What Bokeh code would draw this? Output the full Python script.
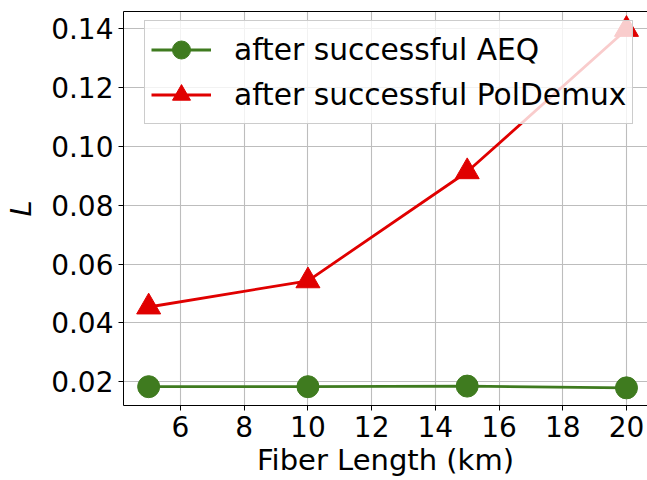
from bokeh.plotting import figure
from bokeh.models import (LinearAxis, FixedTicker, Range1d, Legend, LegendItem,
                          PrintfTickFormatter)
from bokeh.embed import file_html
from bokeh.resources import INLINE

fiber_km = [5, 10, 15, 20]
aeq = [0.0183, 0.0183, 0.0185, 0.0179]
poldemux = [0.0454, 0.0543, 0.0914, 0.1398]
x_ticks = [6, 8, 10, 12, 14, 16, 18, 20]
y_ticks = [0.02, 0.04, 0.06, 0.08, 0.10, 0.12, 0.14]
series_labels = ["after successful AEQ", "after successful PolDemux"]

GREEN = "#3f7b1f"
RED = "#e00000"
FONT = "DejaVu Sans"

p = figure(width=647, height=480, output_backend="svg", toolbar_location=None,
           x_range=Range1d(4.21, 20.66), y_range=Range1d(0.0119, 0.1459),
           min_border_left=123, min_border_right=0, min_border_top=11,
           min_border_bottom=75)
p.outline_line_color = None
p.background_fill_color = "white"
p.border_fill_color = "white"

# axes
p.xaxis.ticker = FixedTicker(ticks=x_ticks)
p.yaxis.ticker = FixedTicker(ticks=y_ticks)
p.xaxis.formatter = PrintfTickFormatter(format="%d")
p.yaxis.formatter = PrintfTickFormatter(format="%.2f")
for ax in (p.xaxis[0], p.yaxis[0]):
    ax.major_label_text_font = FONT
    ax.major_label_text_font_size = "28px"
    ax.major_label_text_color = "black"
    ax.axis_label_text_font = FONT
    ax.axis_label_text_font_size = "29px"
    ax.axis_label_text_color = "black"
    ax.axis_label_text_font_style = "normal"
    ax.axis_line_color = "black"
    ax.axis_line_width = 1
    ax.major_tick_line_color = "black"
    ax.major_tick_out = 5
    ax.major_tick_in = 0
    ax.minor_tick_line_color = None
p.xaxis.axis_label = "Fiber Length (km)"
p.yaxis.axis_label = "L"
p.yaxis.axis_label_text_font_style = "italic"
p.xaxis.major_label_standoff = 5
p.xaxis.axis_label_standoff = 3
p.yaxis.major_label_standoff = 5
p.yaxis.axis_label_standoff = 10

top = LinearAxis(ticker=FixedTicker(ticks=[]), major_label_text_font_size="0px",
                 major_tick_line_color=None, minor_tick_line_color=None,
                 axis_line_color="black", major_label_standoff=0)
p.add_layout(top, "above")

# grid
p.xgrid.ticker = FixedTicker(ticks=x_ticks)
p.ygrid.ticker = FixedTicker(ticks=y_ticks)
for g in (p.xgrid[0], p.ygrid[0]):
    g.grid_line_color = "#bdbdbd"
    g.grid_line_width = 1.1

# data
l1 = p.line(fiber_km, aeq, line_color=GREEN, line_width=2.8)
s1 = p.scatter(fiber_km, aeq, marker="circle", size=22, fill_color=GREEN,
               line_color=GREEN)
l2 = p.line(fiber_km, poldemux, line_color=RED, line_width=2.8)
s2 = p.scatter(fiber_km, poldemux, marker="triangle", size=24, fill_color=RED,
               line_color=RED)

legend = Legend(items=[LegendItem(label=series_labels[0], renderers=[l1, s1]),
                       LegendItem(label=series_labels[1], renderers=[l2, s2])],
                location=(21, 281))
legend.label_text_font = FONT
legend.label_text_font_size = "29.7px"
legend.label_text_color = "black"
legend.glyph_width = 60
legend.glyph_height = 45
legend.spacing = 0
legend.padding = 6
legend.margin = 0
legend.label_standoff = 23
legend.border_line_color = "#cccccc"
legend.border_line_width = 1
legend.border_line_alpha = 1
legend.background_fill_color = "white"
legend.background_fill_alpha = 0.8
p.add_layout(legend, "center")

open("out.html", "w").write(file_html(p, INLINE))
